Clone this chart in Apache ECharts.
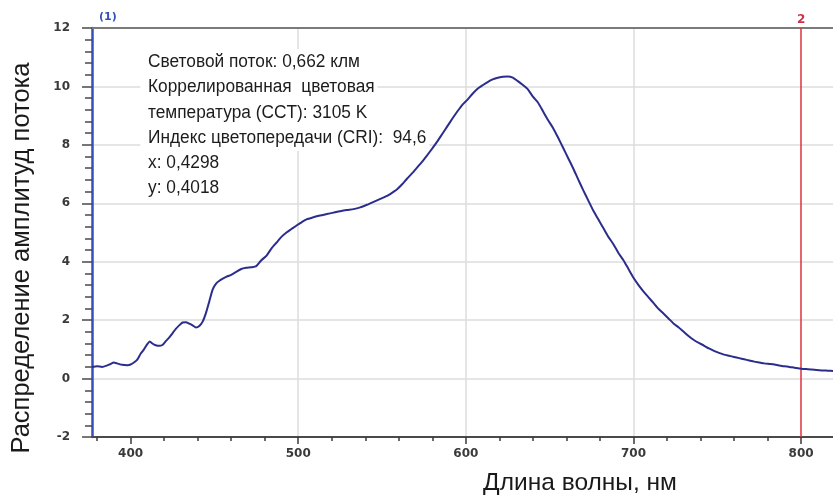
<!DOCTYPE html>
<html>
<head>
<meta charset="utf-8">
<script src="https://cdn.jsdelivr.net/npm/echarts@6/dist/echarts.min.js"></script>
<style>
  html, body { margin: 0; padding: 0; background: #ffffff; }
  #chart { width: 833px; height: 499px; }
</style>
</head>
<body>
<div id="chart"></div>
<script>
// Spectral power distribution of the lamp (wavelength in nm, relative amplitude)
const wavelengths = [
  377, 380, 383, 386, 388, 390, 392, 395, 398, 400,
  402, 404, 406, 408, 410, 411.5, 413, 415, 417, 419,
  421, 423, 425, 427, 429, 431, 433, 435, 437, 439,
  441, 443, 445, 447, 449, 451, 453, 455, 457, 460,
  463, 466, 469, 472, 475, 478, 481, 484, 487, 490,
  493, 496, 499, 502, 505, 509, 513, 517, 521, 525,
  529, 533, 537, 541, 545, 549, 553, 556, 559, 562,
  565, 568, 571, 574, 577, 580, 583, 586, 589, 592,
  595, 598, 601, 604, 607, 610, 613, 616, 619, 622,
  625, 628, 631, 634, 637, 640, 643, 646, 649, 652,
  655, 658, 661, 664, 667, 670, 673, 676, 679, 682,
  685, 688, 691, 694, 697, 700, 703, 706, 709, 712,
  715, 718, 721, 724, 727, 730, 733, 736, 739, 742,
  745, 748, 751, 754, 757, 760, 763, 766, 769, 772,
  775, 778, 781, 784, 787, 790, 793, 796, 800, 804,
  808, 812, 816, 819
];
const amplitudes = [
  0.40, 0.42, 0.40, 0.45, 0.50, 0.55, 0.52, 0.47, 0.46, 0.48,
  0.55, 0.65, 0.85, 1.00, 1.18, 1.27, 1.20, 1.14, 1.12, 1.15,
  1.28, 1.40, 1.55, 1.70, 1.82, 1.92, 1.93, 1.88, 1.82, 1.75,
  1.80, 1.95, 2.25, 2.65, 3.05, 3.25, 3.35, 3.42, 3.48, 3.55,
  3.65, 3.75, 3.79, 3.81, 3.85, 4.05, 4.20, 4.45, 4.65, 4.85,
  5.00, 5.12, 5.24, 5.35, 5.45, 5.52, 5.58, 5.63, 5.68, 5.73,
  5.77, 5.80, 5.86, 5.95, 6.05, 6.15, 6.25, 6.36, 6.48, 6.65,
  6.85, 7.03, 7.23, 7.43, 7.65, 7.88, 8.12, 8.38, 8.64, 8.90,
  9.15, 9.38, 9.55, 9.75, 9.92, 10.04, 10.15, 10.24, 10.30, 10.33,
  10.34, 10.30, 10.18, 10.05, 9.90, 9.65, 9.45, 9.15, 8.85, 8.58,
  8.25, 7.90, 7.55, 7.20, 6.82, 6.45, 6.10, 5.75, 5.45, 5.15,
  4.85, 4.60, 4.30, 4.05, 3.75, 3.45, 3.20, 2.98, 2.78, 2.58,
  2.38, 2.22, 2.05, 1.88, 1.75, 1.60, 1.45, 1.32, 1.22, 1.13,
  1.03, 0.95, 0.88, 0.82, 0.78, 0.74, 0.70, 0.66, 0.62, 0.58,
  0.55, 0.52, 0.50, 0.48, 0.45, 0.42, 0.40, 0.37, 0.34, 0.32,
  0.30, 0.28, 0.27, 0.26
];

// Axis ranges and tick positions
const xRange = [377, 819];
const xMajorTicks = [400, 500, 600, 700, 800];
const xMinorTicks = [380, 420, 440, 460, 480, 520, 540, 560, 580, 620, 640, 660, 680, 720, 740, 760, 780];
const yRange = [-2, 12];
const yStep = 2;

// Cursor marker
const markerWavelength = 800;
const markerLabel = '2';
const cursorLabel = '(1)';

// Texts
const xTitle = 'Длина волны, нм';
const yTitle = 'Распределение амплитуд потока';
const infoLines = [
  'Световой поток: 0,662 клм',
  'Коррелированная  цветовая',
  'температура (CCT): 3105 K',
  'Индекс цветопередачи (CRI):  94,6',
  'x: 0,4298',
  'y: 0,4018'
];

const seriesData = wavelengths.map((w, i) => [w, amplitudes[i]]);

const tickFont = { fontFamily: 'DejaVu Sans, Verdana, sans-serif', fontSize: 12, fontWeight: 'bold', color: '#3a3a3a' };
const titleFont = '"Liberation Sans", Arial, sans-serif';

// The info block uses a narrow face: a regular sans squeezed horizontally
const infoFontSpec = '18px "Liberation Sans", Arial, sans-serif';
const measureCtx = document.createElement('canvas').getContext('2d');
measureCtx.font = infoFontSpec;
const infoSqueeze = 212 / measureCtx.measureText(infoLines[0]).width;
const infoPadLeft = 8;
const infoLeft = 148;

const chart = echarts.init(document.getElementById('chart'), null, { renderer: 'canvas' });

const infoGraphics = infoLines.map((line, i) => ({
  type: 'text',
  x: infoLeft - infoPadLeft * infoSqueeze,
  y: 62 + i * 25.3,
  scaleX: infoSqueeze,
  z: 1,
  style: {
    text: line,
    font: infoFontSpec,
    fill: '#1c1c1c',
    textAlign: 'left',
    textVerticalAlign: 'middle',
    backgroundColor: '#ffffff',
    padding: [4, 3, 4, infoPadLeft]
  }
}));

chart.setOption({
  animation: false,
  backgroundColor: '#ffffff',
  grid: { left: 92, right: 0, top: 28, bottom: 62, outerBoundsMode: 'none', containLabel: false },
  xAxis: [
    {
      type: 'value',
      min: xRange[0],
      max: xRange[1],
      position: 'bottom',
      axisLine: { show: true, onZero: false, lineStyle: { color: '#4a4a4a', width: 2 } },
      axisTick: { show: true, inside: false, length: 7, customValues: xMajorTicks, lineStyle: { color: '#3a3a3a', width: 1.5 } },
      axisLabel: { show: true, customValues: xMajorTicks, margin: 11, ...tickFont },
      splitLine: { show: true, showMinLine: false, showMaxLine: false, lineStyle: { color: '#dcdcdc', width: 1.5 } }
    },
    {
      type: 'value',
      min: xRange[0],
      max: xRange[1],
      position: 'bottom',
      axisLine: { show: false, onZero: false },
      axisTick: { show: true, inside: false, length: 4, customValues: xMinorTicks, lineStyle: { color: '#3a3a3a', width: 1.5 } },
      axisLabel: { show: false },
      splitLine: { show: false }
    },
    {
      type: 'value',
      min: xRange[0],
      max: xRange[1],
      position: 'top',
      axisLine: { show: true, onZero: false, lineStyle: { color: '#7a7a7a', width: 2 } },
      axisTick: { show: false },
      axisLabel: { show: false },
      splitLine: { show: false }
    }
  ],
  yAxis: {
    type: 'value',
    min: yRange[0],
    max: yRange[1],
    interval: yStep,
    axisLine: { show: true, onZero: false, lineStyle: { color: '#3550b8', width: 2.5 } },
    axisTick: { show: true, inside: false, length: 10, lineStyle: { color: '#4a4a4a', width: 1.5 } },
    minorTick: { show: true, splitNumber: 5, length: 7, lineStyle: { color: '#4a4a4a', width: 1.5 } },
    axisLabel: { margin: 22, ...tickFont },
    splitLine: { show: true, showMinLine: false, showMaxLine: false, lineStyle: { color: '#dcdcdc', width: 1.5 } }
  },
  series: [
    {
      type: 'line',
      xAxisIndex: 0,
      data: seriesData,
      showSymbol: false,
      symbol: 'none',
      smooth: 0.2,
      lineStyle: { color: '#2b2d8c', width: 2 },
      z: 5,
      markLine: {
        silent: true,
        symbol: 'none',
        animation: false,
        lineStyle: { color: '#e0303c', width: 1.5, type: 'solid' },
        label: {
          show: true,
          position: 'end',
          distance: 2,
          formatter: markerLabel,
          color: '#d0304a',
          fontFamily: 'DejaVu Sans, Verdana, sans-serif',
          fontSize: 12,
          fontWeight: 'bold'
        },
        data: [{ xAxis: markerWavelength }]
      }
    }
  ],
  graphic: [
    {
      type: 'text',
      x: 99,
      y: 17,
      style: {
        text: cursorLabel,
        font: 'bold 11px "DejaVu Sans", Verdana, sans-serif',
        fill: '#3550b8',
        textAlign: 'left',
        textVerticalAlign: 'middle'
      }
    },
    {
      type: 'text',
      x: 22,
      y: 258,
      rotation: Math.PI / 2,
      style: {
        text: yTitle,
        font: '25.5px ' + titleFont,
        fill: '#1a1a1a',
        textAlign: 'center',
        textVerticalAlign: 'middle'
      }
    },
    {
      type: 'text',
      x: 580,
      y: 483,
      style: {
        text: xTitle,
        font: '24.5px ' + titleFont,
        fill: '#1a1a1a',
        textAlign: 'center',
        textVerticalAlign: 'middle'
      }
    },
    ...infoGraphics
  ]
});
</script>
</body>
</html>
